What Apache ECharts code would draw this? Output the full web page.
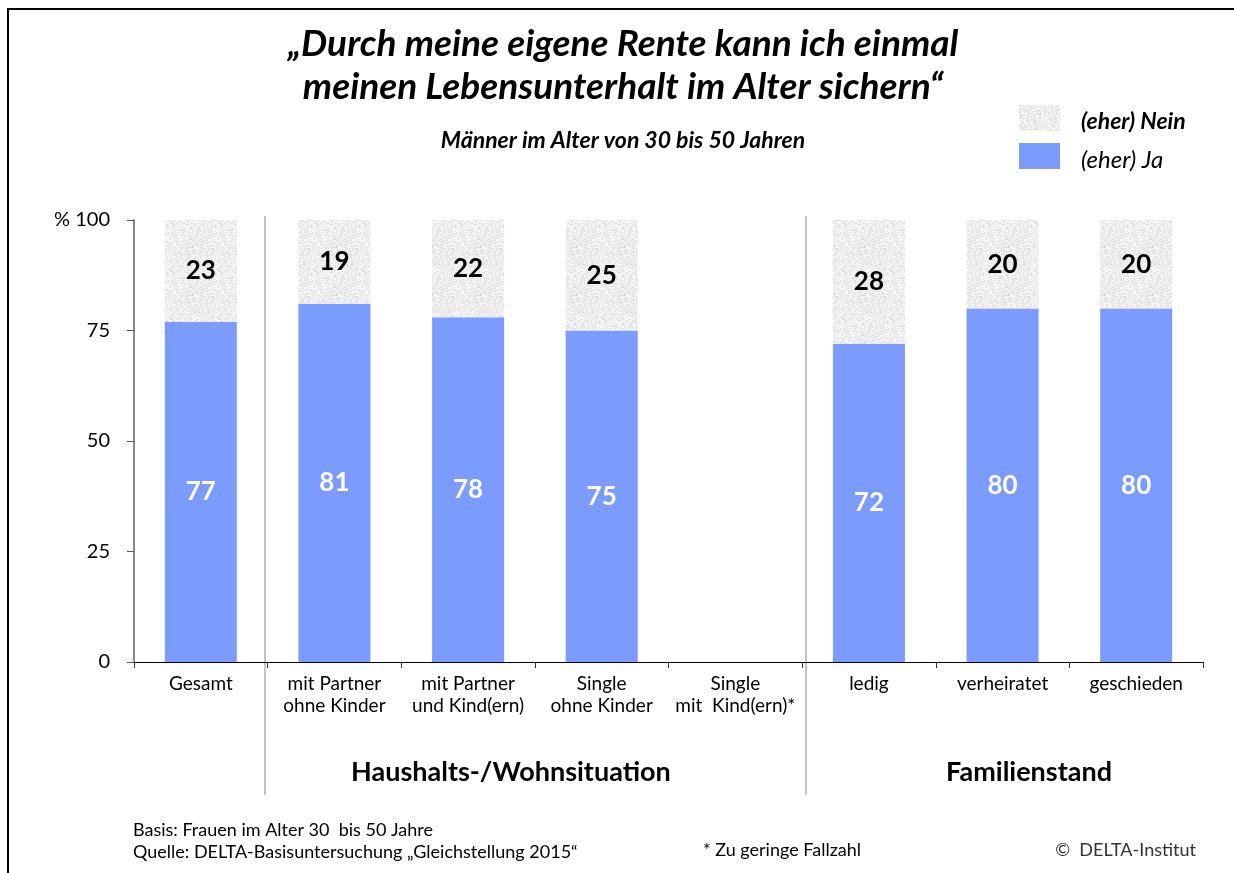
<!DOCTYPE html>
<html lang="de">
<head>
  <meta charset="UTF-8">
  <title>Rente</title>
  <script src="https://cdn.jsdelivr.net/npm/echarts@6/dist/echarts.min.js"></script>
  <style>
    html, body { margin: 0; padding: 0; width: 100%; height: 100%; background: #fff; }
    #chart { width: 1234px; height: 873px; }
  </style>
</head>
<body>
  <div id="chart"></div>
  <script>
    // data
    const categories = ['Gesamt', 'mit Partner\nohne Kinder', 'mit Partner\nund Kind(ern)', 'Single\nohne Kinder',
      'Single\nmit  Kind(ern)*', 'ledig', 'verheiratet', 'geschieden'];
    const jaValues = [77, 81, 78, 75, null, 72, 80, 80];
    const neinValues = [23, 19, 22, 25, null, 28, 20, 20];
    const yTicks = [0, 25, 50, 75, 100];

    const FONT = 'Lato, "Open Sans", sans-serif';
    const blue = '#7b9bff';

    // light grey speckled texture for the "Nein" part
    function makeTexture() {
      const c = document.createElement('canvas');
      c.width = 48; c.height = 48;
      const ctx = c.getContext('2d');
      ctx.fillStyle = '#efefef';
      ctx.fillRect(0, 0, 48, 48);
      for (let y = 0; y < 48; y++) {
        for (let x = 0; x < 48; x++) {
          const h = Math.abs(Math.sin(x * 12.9898 + y * 78.233) * 43758.5453) % 1;
          if (h < 0.3) {
            const g = 218 + Math.floor(h * 60);
            ctx.fillStyle = `rgb(${g},${g},${g})`;
            ctx.fillRect(x, y, 1, 1);
          } else if (h > 0.75) {
            ctx.fillStyle = '#fafafa';
            ctx.fillRect(x, y, 1, 1);
          }
        }
      }
      return c;
    }
    const texture = { image: makeTexture(), repeat: 'repeat' };

    const chart = echarts.init(document.getElementById('chart'));

    const option = {
      animation: false,
      backgroundColor: '#fff',
      title: {
        text: '„Durch meine eigene Rente kann ich einmal\nmeinen Lebensunterhalt im Alter sichern“',
        left: 623,
        top: 23,
        padding: 0,
        textAlign: 'center',
        textStyle: { fontFamily: FONT, fontSize: 37, fontWeight: 'bold', fontStyle: 'italic', color: '#000', lineHeight: 43 },
        subtext: 'Männer im Alter von 30 bis 50 Jahren',
        subtextStyle: { fontFamily: FONT, fontSize: 23, fontWeight: 'bold', fontStyle: 'italic', color: '#000' },
        itemGap: 20
      },
      legend: {
        data: ['(eher) Nein', '(eher) Ja'],
        orient: 'vertical',
        left: 1019,
        top: 105,
        padding: 0,
        itemWidth: 41,
        itemHeight: 26,
        itemGap: 10,
        icon: 'rect',
        selectedMode: false,
        formatter: name => name.indexOf('Nein') >= 0 ? '{b|' + name + '}' : '{n|' + name + '}',
        textStyle: {
          padding: [0, 0, 0, 16],
          rich: {
            b: { fontFamily: FONT, fontSize: 23, fontWeight: 'bold', fontStyle: 'italic', color: '#000', padding: [7, 0, 0, 0] },
            n: { fontFamily: FONT, fontSize: 24, fontStyle: 'italic', color: '#000', padding: [9, 0, 0, 0] }
          }
        }
      },
      grid: { left: 134, right: 31, top: 220, bottom: 211, containLabel: false },
      xAxis: {
        type: 'category',
        data: categories,
        axisLine: { lineStyle: { color: '#000', width: 1 } },
        axisTick: { show: true, length: 6, lineStyle: { color: '#333' } },
        axisLabel: { interval: 0, margin: 11, fontFamily: FONT, fontSize: 19, color: '#000', lineHeight: 22 }
      },
      yAxis: {
        type: 'value',
        min: 0,
        max: 100,
        interval: 25,
        splitLine: { show: false },
        axisLine: { show: true, lineStyle: { color: '#888', width: 2 } },
        axisTick: { show: true, length: 7, lineStyle: { color: '#555' } },
        axisLabel: {
          margin: 24,
          fontFamily: FONT,
          fontSize: 20,
          color: '#000',
          formatter: v => yTicks.indexOf(v) >= 0 ? (v === 100 ? '% 100' : String(v)) : ''
        }
      },
      series: [
        {
          name: '(eher) Ja',
          type: 'bar',
          stack: 'total',
          barWidth: 72,
          data: jaValues,
          itemStyle: { color: blue },
          label: {
            show: true,
            position: 'inside',
            fontFamily: FONT,
            fontSize: 26,
            fontWeight: 'bold',
            color: '#fff'
          }
        },
        {
          name: '(eher) Nein',
          type: 'bar',
          stack: 'total',
          barWidth: 72,
          data: neinValues,
          itemStyle: { color: texture },
          label: {
            show: true,
            position: 'inside',
            fontFamily: FONT,
            fontSize: 26,
            fontWeight: 'bold',
            color: '#000'
          }
        }
      ],
      graphic: [
        // outer frame (top and left edges)
        { type: 'line', shape: { x1: 8, y1: 9, x2: 1234, y2: 9 }, style: { stroke: '#000', lineWidth: 2 } },
        { type: 'line', shape: { x1: 8, y1: 8, x2: 8, y2: 873 }, style: { stroke: '#000', lineWidth: 2 } },
        // group separators
        { type: 'line', shape: { x1: 265, y1: 216, x2: 265, y2: 795 }, style: { stroke: '#c4c4c4', lineWidth: 2 } },
        { type: 'line', shape: { x1: 806, y1: 216, x2: 806, y2: 795 }, style: { stroke: '#c4c4c4', lineWidth: 2 } },
        // group titles
        { type: 'text', left: 351, top: 759, style: { text: 'Haushalts-/Wohnsituation', font: 'bold 27px ' + FONT, fill: '#000' } },
        { type: 'text', left: 946, top: 759, style: { text: 'Familienstand', font: 'bold 27px ' + FONT, fill: '#000' } },
        // footer
        { type: 'text', left: 133, top: 821, style: { text: 'Basis: Frauen im Alter 30  bis 50 Jahre', font: '18px ' + FONT, fill: '#000' } },
        { type: 'text', left: 133, top: 843, style: { text: 'Quelle: DELTA-Basisuntersuchung „Gleichstellung 2015“', font: '18px ' + FONT, fill: '#000' } },
        { type: 'text', left: 703, top: 841, style: { text: '* Zu geringe Fallzahl', font: '18px ' + FONT, fill: '#000' } },
        { type: 'text', right: 38, top: 841, style: { text: '©  DELTA-Institut', font: '18px ' + FONT, fill: '#333' } }
      ]
    };

    chart.setOption(option);
  </script>
</body>
</html>
